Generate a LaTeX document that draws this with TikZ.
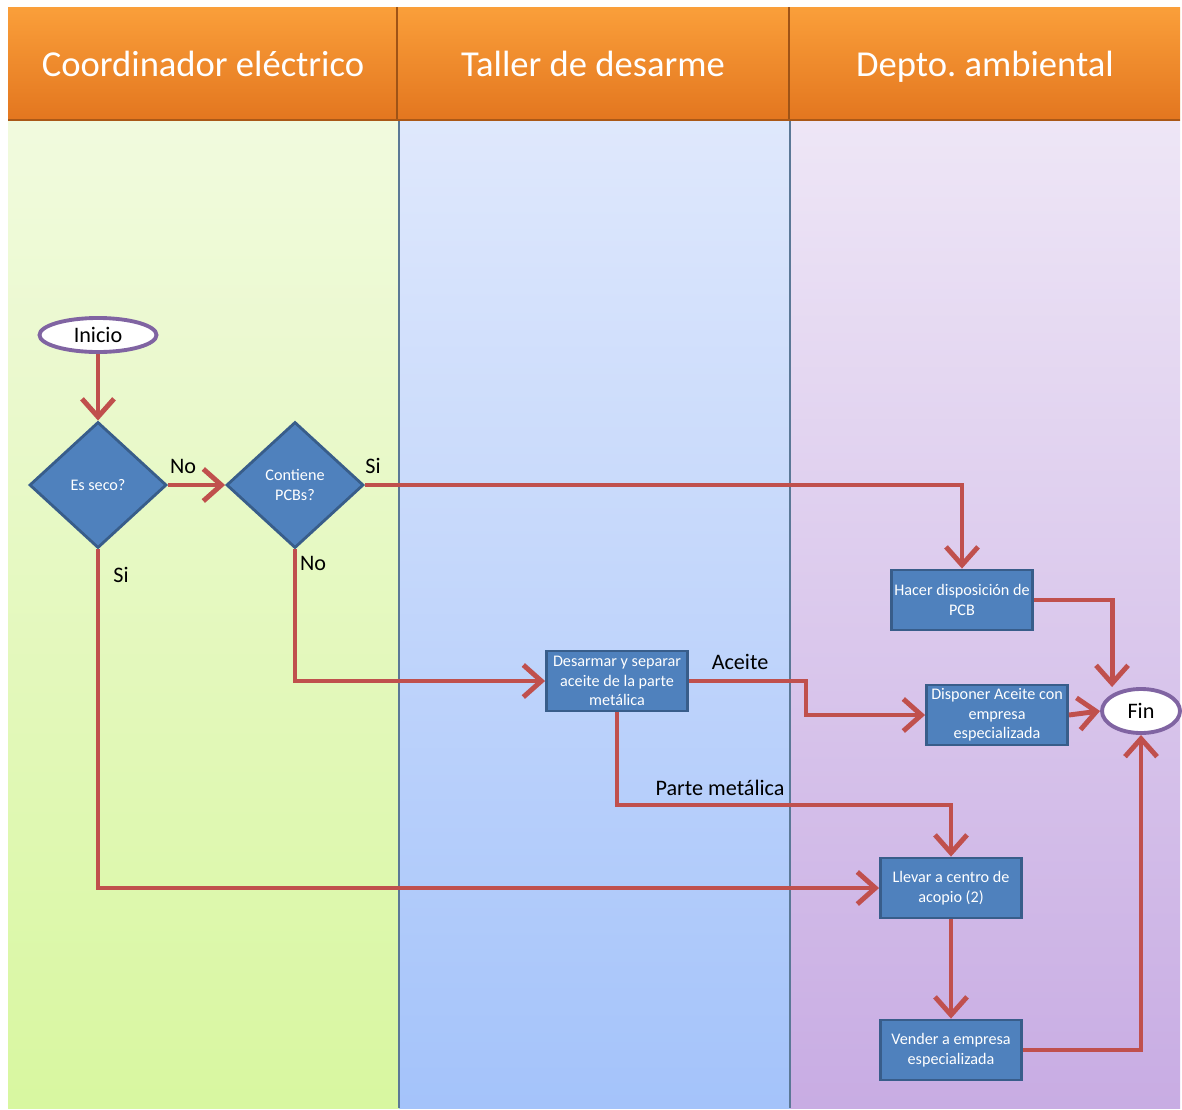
\documentclass[tikz,border=0pt]{standalone}
\usepackage{fontspec}
\setmainfont{Carlito}
\usetikzlibrary{shapes.geometric}
\usetikzlibrary{arrows.meta}
\frenchspacing

\definecolor{orangetop}{HTML}{FA9F3A}
\definecolor{orangebot}{HTML}{E3761F}
\definecolor{greentop}{HTML}{F1FADE}
\definecolor{greenbot}{HTML}{D8F7A0}
\definecolor{bluetop}{HTML}{DFE8FC}
\definecolor{bluebot}{HTML}{A4C3FA}
\definecolor{purpletop}{HTML}{EEE6F6}
\definecolor{purplebot}{HTML}{C8ACE3}
\definecolor{boxblue}{HTML}{4F81BD}
\definecolor{boxline}{HTML}{385D8A}
\definecolor{termline}{HTML}{8064A2}
\definecolor{flowred}{HTML}{C0504D}
\definecolor{laneline}{HTML}{5B7896}

\newcommand{\boxfont}{\fontsize{4.6}{5.6}\selectfont}
\newcommand{\labfont}{\fontsize{6.3}{7.3}\selectfont}

\tikzset{
  proc/.style={draw=boxline, fill=boxblue, line width=0.8pt, text=white,
    minimum width=1.41cm, minimum height=0.6cm, inner sep=0pt, align=center, font=\boxfont},
  decision/.style={diamond, draw=boxline, fill=boxblue, line width=0.8pt, text=white,
    minimum width=1.37cm, minimum height=1.26cm, inner sep=0pt, align=center, font=\boxfont},
  terminal/.style={ellipse, draw=termline, fill=white, line width=1.1pt, inner sep=0pt, font=\labfont},
  flow/.style={draw=flowred, line width=1.4pt, -{Straight Barb[length=0.18cm,width=0.32cm]}},
  lbl/.style={font=\labfont},
  lanehead/.style={text=white, anchor=base, font=\fontsize{10.4}{12}\selectfont}
}

\begin{document}
\begin{tikzpicture}[x=0.01cm, y=-0.01cm]
\useasboundingbox (0,0) rectangle (1182,1109);
\fill[white] (0,0) rectangle (1182,1109);
% lanes
\shade[top color=greentop, bottom color=greenbot] (8,120) rectangle (399,1108);
\shade[top color=bluetop, bottom color=bluebot] (399,120) rectangle (790,1108);
\shade[top color=purpletop, bottom color=purplebot] (790,120) rectangle (1180,1108);
\draw[laneline, line width=0.5pt] (399,120) -- (399,1108);
\draw[laneline, line width=0.5pt] (790,120) -- (790,1108);
% headers
\shade[top color=orangetop, bottom color=orangebot] (8,7) rectangle (1180,120);
\draw[orangebot!70!black, line width=0.6pt] (397,7) -- (397,120);
\draw[orangebot!70!black, line width=0.6pt] (789,7) -- (789,120);
\draw[orangebot!75!black, line width=0.8pt] (8,120) -- (1180,120);
\node[lanehead] (h1) at (203,76) {Coordinador eléctrico};
\node[lanehead] (h2) at (593,76) {Taller de desarme};
\node[lanehead] (h3) at (985,76) {Depto. ambiental};

% nodes
\node[terminal, minimum width=1.17cm, minimum height=0.34cm] (inicio) at (98,335) {Inicio};
\node[decision] (seco) at (98,485) {Es seco?};
\node[decision] (pcbs) at (295,485) {Contiene\\PCBs?};
\node[proc] (hacer) at (962,600) {Hacer disposición de\\PCB};
\node[proc] (desarmar) at (617,681) {Desarmar y separar\\aceite de la parte\\metálica};
\node[proc] (disponer) at (997,715) {Disponer Aceite con\\empresa\\especializada};
\node[terminal, minimum width=0.78cm, minimum height=0.44cm] (fin) at (1141,711) {Fin};
\node[proc] (llevar) at (951,888) {Llevar a centro de\\acopio (2)};
\node[proc] (vender) at (951,1050) {Vender a empresa\\especializada};

% connectors
\draw[flow] (inicio) -- (seco);
\draw[flow] (seco) -- (pcbs);
\draw[flow] (pcbs.east) -| (hacer.north);
\draw[flow] (pcbs.south) |- (desarmar.west);
\draw[flow] (seco.south) |- (llevar.west);
\draw[flow] (desarmar.east) -- (806,681) -- (806,715) -- (disponer.west);
\draw[flow] (desarmar.south) -- (617,805) -| (llevar.north);
\draw[flow] (hacer.east) -| (fin.north west |- fin.north);
\draw[flow] (disponer.east) -- (fin.west);
\draw[flow] (llevar) -- (vender);
\draw[flow] (vender.east) -| (fin.south);

% labels
\node[lbl] (l1) at (183,466) {No};
\node[lbl] (l2) at (373,466) {Si};
\node[lbl] (l3) at (313,563) {No};
\node[lbl] (l4) at (121,575) {Si};
\node[lbl] (l5) at (740,662) {Aceite};
\node[lbl] (l6) at (720,788) {Parte metálica};
\end{tikzpicture}
\end{document}
